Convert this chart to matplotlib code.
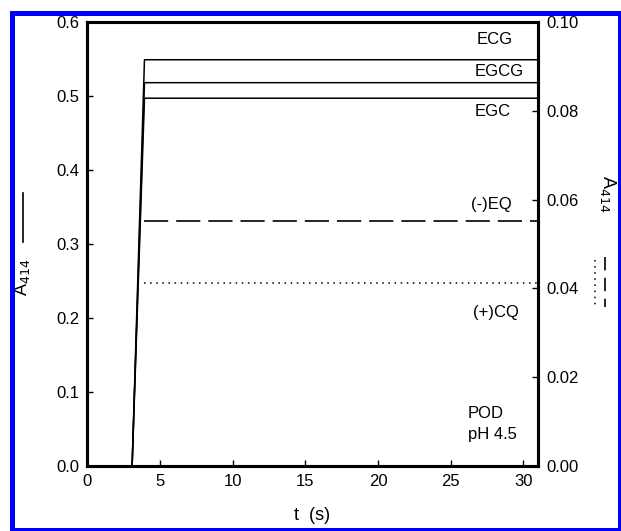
import matplotlib
matplotlib.use('Agg')
import matplotlib.pyplot as plt
from matplotlib.lines import Line2D
from matplotlib.patches import Rectangle

plt.rcParams['font.family'] = ['Liberation Sans', 'DejaVu Sans']

# Traces read against the left axis (A414, solid lines)
t_solid = [3.07, 3.92, 31.0]
a_ecg = [0.0, 0.549, 0.549]
a_egcg = [0.0, 0.518, 0.518]
a_egc = [0.0, 0.497, 0.497]

# Traces read against the right axis
t_right = [3.92, 31.0]
a_eq = [0.0552, 0.0552]   # (-)EQ, dashed
a_cq = [0.0412, 0.0412]   # (+)CQ, dotted

x_ticks = [0, 5, 10, 15, 20, 25, 30]
y_left_ticks = [0.0, 0.1, 0.2, 0.3, 0.4, 0.5, 0.6]
y_right_ticks = [0.00, 0.02, 0.04, 0.06, 0.08, 0.10]

W, H = 621, 531
fig = plt.figure(figsize=(W / 100, H / 100), dpi=100)
ax = fig.add_axes([87.5 / W, 1 - 466 / H, (538 - 87.5) / W, (466 - 22) / H])
ax2 = ax.twinx()

lw = 1.1
ax.plot(t_solid, a_ecg, color='black', lw=lw)
ax.plot(t_solid, a_egcg, color='black', lw=lw)
ax.plot(t_solid, a_egc, color='black', lw=lw)

dotted = (0, (1.0, 3.0))
ax2.plot(t_right, a_eq, color='black', lw=1.2, linestyle=(0, (14.5, 4.8)))
ax2.plot(t_right, a_cq, color='black', lw=1.1, linestyle=dotted)

ax.set_xlim(0, 31)
ax.set_ylim(0, 0.6)
ax2.set_ylim(0, 0.10)

ax.set_xticks(x_ticks)
ax.set_yticks(y_left_ticks)
ax.set_yticklabels([f'{v:.1f}' for v in y_left_ticks])
ax2.set_yticks(y_right_ticks)
ax2.set_yticklabels([f'{v:.2f}' for v in y_right_ticks])

for a in (ax, ax2):
    for s in a.spines.values():
        s.set_linewidth(2.2)

ax.tick_params(axis='x', direction='in', length=4, width=1, labelsize=12, pad=6, top=False)
ax.tick_params(axis='y', direction='in', length=4, width=1, labelsize=12, pad=6, right=False)
ax2.tick_params(axis='y', direction='in', length=4, width=1, labelsize=12, pad=6)

# curve labels
ax.text(513 / W, 1 - 40 / H, 'ECG', transform=fig.transFigure, fontsize=12, ha='right', va='center')
ax.text(524 / W, 1 - 71 / H, 'EGCG', transform=fig.transFigure, fontsize=12, ha='right', va='center')
ax.text(511 / W, 1 - 112 / H, 'EGC', transform=fig.transFigure, fontsize=12, ha='right', va='center')
ax.text(512 / W, 1 - 204 / H, '(-)EQ', transform=fig.transFigure, fontsize=12, ha='right', va='center')
ax.text(519 / W, 1 - 313 / H, '(+)CQ', transform=fig.transFigure, fontsize=12, ha='right', va='center')
ax.text(468 / W, 1 - 413 / H, 'POD', transform=fig.transFigure, fontsize=12, ha='left', va='center')
ax.text(468 / W, 1 - 435 / H, 'pH 4.5', transform=fig.transFigure, fontsize=12, ha='left', va='center')

# axis titles with line-style keys
fig.text(22 / W, 1 - 277 / H, 'A$_{414}$', rotation=90, fontsize=13, ha='center', va='center')
fig.add_artist(Line2D([23 / W, 23 / W], [1 - 193 / H, 1 - 242 / H], color='black', lw=1.2))

fig.text(608 / W, 1 - 194 / H, 'A$_{414}$', rotation=270, fontsize=13, ha='center', va='center')
fig.add_artist(Line2D([595 / W, 595 / W], [1 - 260 / H, 1 - 307 / H], color='black', lw=1.1,
                      linestyle=dotted))
fig.add_artist(Line2D([605 / W, 605 / W], [1 - 257 / H, 1 - 307 / H], color='black', lw=1.2,
                      linestyle=(0, (8, 4.5))))

fig.text(312 / W, 1 - 507 / H, 't  (s)', fontsize=13, ha='center', va='top')

# blue frame around the figure
fig.add_artist(Rectangle((12 / W, 1 - 529.5 / H), (620 - 12) / W, (529.5 - 12.5) / H,
                         transform=fig.transFigure, fill=False, edgecolor='#0000ff',
                         lw=3.6, zorder=10))

fig.savefig('out.png', dpi=100)
